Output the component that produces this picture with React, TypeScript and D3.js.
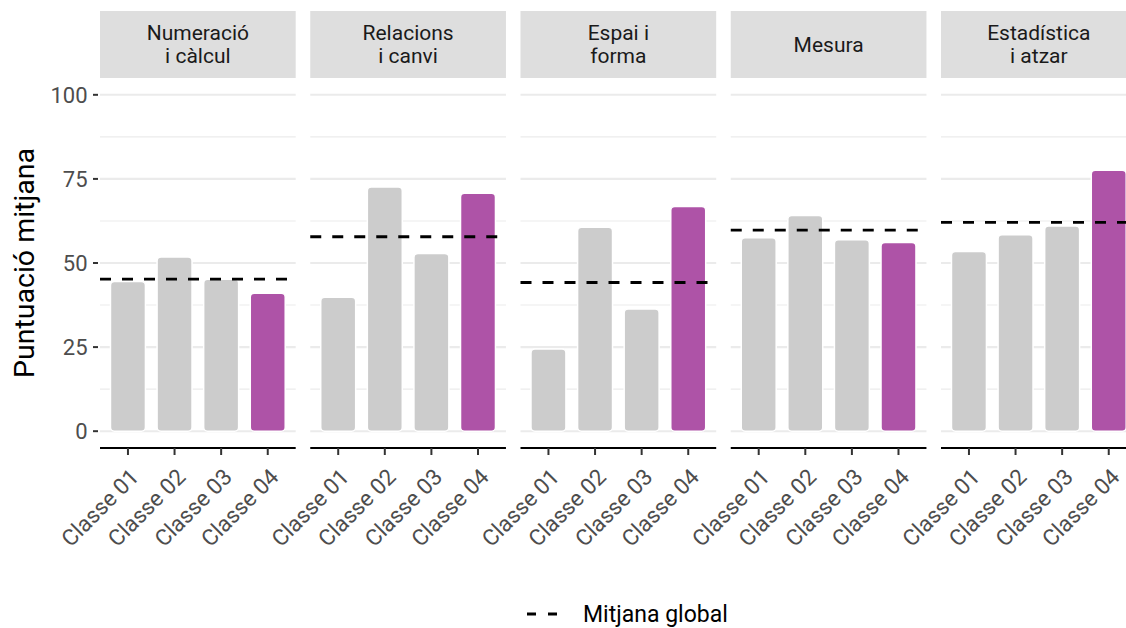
import React from "react";
import * as d3 from "d3";

const facets = ["Numeració\ni càlcul", "Relacions\ni canvi", "Espai i\nforma", "Mesura", "Estadística\ni atzar"];
const classes = ["Classe 01", "Classe 02", "Classe 03", "Classe 04"];
const scores1 = [44.5, 51.8, 45.2, 41.0];
const scores2 = [39.8, 72.6, 52.8, 70.7];
const scores3 = [24.4, 60.6, 36.3, 66.8];
const scores4 = [57.5, 64.1, 56.9, 56.1];
const scores5 = [53.4, 58.4, 61.0, 77.6];
const series = [scores1, scores2, scores3, scores4, scores5];
const globalMeans = [45.2, 57.8, 44.2, 59.8, 62.1];
const highlight = "Classe 04";
const yTicks = [0, 25, 50, 75, 100];
const yMinor = [12.5, 37.5, 62.5, 87.5];

const W = 1126;
const H = 628;
const font = "Roboto, 'Noto Sans', sans-serif";

export default function App() {
  const panelTop = 78;
  const panelBottom = 448;
  const stripTop = 11;
  const panelW = 195.7;
  const step = 210.25;
  const left0 = 100;

  const y = d3.scaleLinear().domain([-5, 105]).range([panelBottom, panelTop]);

  return (
    <svg width={W} height={H} style={{ position: "absolute", left: 0, top: 0, background: "#fff" }}>
      <text
        transform={`translate(${34},${263}) rotate(-90)`}
        textAnchor="middle"
        fontFamily={font}
        fontSize={28.5}
        fill="#000"
      >
        Puntuació mitjana
      </text>
      {yTicks.map((t) => (
        <g key={t}>
          <line x1={93} x2={98} y1={y(t)} y2={y(t)} stroke="#333" strokeWidth={2} />
          <text x={87.5} y={y(t)} dy="0.36em" textAnchor="end" fontFamily={font} fontSize={22} fill="#4d4d4d">
            {t}
          </text>
        </g>
      ))}
      {facets.map((f, i) => {
        const x0 = left0 + i * step;
        const x = d3
          .scaleBand<string>()
          .domain(classes)
          .range([x0, x0 + panelW])
          .paddingInner(0.25)
          .paddingOuter(0.225);
        const lines = f.split("\n");
        const cx = x0 + panelW / 2;
        return (
          <g key={f}>
            <rect x={x0} y={stripTop} width={panelW} height={panelTop - stripTop} fill="#dedede" />
            {lines.map((l, k) => (
              <text
                key={k}
                x={cx}
                y={lines.length === 1 ? 44.5 : 32.5 + k * 23}
                dy="0.36em"
                textAnchor="middle"
                fontFamily={font}
                fontSize={21}
                fill="#1a1a1a"
              >
                {l}
              </text>
            ))}
            {yMinor.map((t) => (
              <line key={"m" + t} x1={x0} x2={x0 + panelW} y1={y(t)} y2={y(t)} stroke="#ebebeb" strokeWidth={1.1} />
            ))}
            {yTicks.map((t) => (
              <line key={"g" + t} x1={x0} x2={x0 + panelW} y1={y(t)} y2={y(t)} stroke="#ebebeb" strokeWidth={2.1} />
            ))}
            {classes.map((c, j) => {
              const v = series[i][j];
              return (
                <rect
                  key={c}
                  x={x(c)}
                  y={y(v)}
                  width={x.bandwidth()}
                  height={y(0) - y(v)}
                  rx={4}
                  ry={4}
                  fill={c === highlight ? "#ae53a7" : "#cccccc"}
                  stroke="#fff"
                  strokeWidth={1.5}
                />
              );
            })}
            <line
              x1={x0}
              x2={x0 + panelW}
              y1={y(globalMeans[i])}
              y2={y(globalMeans[i])}
              stroke="#000"
              strokeWidth={2.8}
              strokeDasharray="11,11"
            />
            <line x1={x0} x2={x0 + panelW} y1={panelBottom} y2={panelBottom} stroke="#000" strokeWidth={2.2} />
            {classes.map((c) => {
              const tx = (x(c) as number) + x.bandwidth() / 2;
              return (
                <g key={"t" + c}>
                  <line x1={tx} x2={tx} y1={panelBottom} y2={panelBottom + 7} stroke="#333" strokeWidth={2} />
                  <text
                    transform={`translate(${tx + 1},${panelBottom + 19}) rotate(-45)`}
                    textAnchor="end"
                    dy="0.71em"
                    fontFamily={font}
                    fontSize={22.5}
                    fill="#4d4d4d"
                  >
                    {c}
                  </text>
                </g>
              );
            })}
          </g>
        );
      })}
      <line x1={527} x2={557} y1={614} y2={614} stroke="#000" strokeWidth={2.8} strokeDasharray="9,12" />
      <text x={583} y={614} dy="0.36em" fontFamily={font} fontSize={23} fill="#000">
        Mitjana global
      </text>
    </svg>
  );
}
